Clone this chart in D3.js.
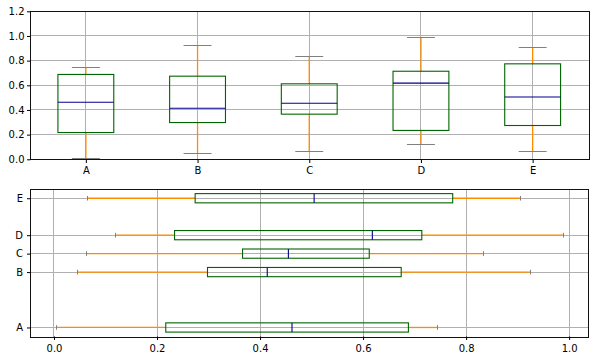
<!DOCTYPE html>
<html><head><meta charset="utf-8">
<script src="https://cdn.jsdelivr.net/npm/d3@7"></script>
<style>body{margin:0;background:#fff}svg{display:block}text{font-family:"DejaVu Sans",sans-serif;font-size:10px;fill:#000}</style>
</head><body>
<script>
const categories = ["A","B","C","D","E"];
const whiskerLow  = [0.005, 0.045, 0.063, 0.120, 0.065];
const q1          = [0.217, 0.298, 0.366, 0.234, 0.274];
const medians     = [0.462, 0.414, 0.455, 0.618, 0.505];
const q3          = [0.688, 0.674, 0.612, 0.714, 0.774];
const whiskerHigh = [0.745, 0.925, 0.833, 0.989, 0.906];
const topPositions = [1,2,3,4,5];
const bottomPositions = [1,4,5,6,8];
const topYTicks = [0,0.2,0.4,0.6,0.8,1.0,1.2];
const bottomXTicks = [0,0.2,0.4,0.6,0.8,1.0];

const W=598,H=361;
const col={box:"#006400",whisk:"#ff8c00",med:"#00008b",cap:"#808080",grid:"#b0b0b0"};
const svg=d3.select("body").append("svg").attr("width",W).attr("height",H);
const s=v=>Math.round(v-0.5)+0.5; // snap to pixel centre (grey furniture only)
const r=v=>Math.round(v);

function ln(g,x1,y1,x2,y2,c,w){
  return g.append("line").attr("x1",x1).attr("y1",y1).attr("x2",x2).attr("y2",y2)
    .attr("stroke",c).attr("stroke-width",w||1);
}
function box(g,x1,y1,x2,y2,c){
  return g.append("rect").attr("x",Math.min(x1,x2)).attr("y",Math.min(y1,y2))
    .attr("width",Math.abs(x2-x1)).attr("height",Math.abs(y2-y1))
    .attr("fill","none").attr("stroke",c).attr("stroke-width",1.1);
}
function styleAxis(a){
  a.select(".domain").remove();
  a.selectAll("text").attr("font-size",10).attr("font-family","DejaVu Sans").attr("fill","#000");
  a.selectAll("line").attr("stroke","#000").attr("stroke-width",1);
}

// ---------- Top (vertical) ----------
{
  const L=30,R=588.5,T=11.3,B=159.3;
  const x=d3.scaleLinear().domain([0.5,5.5]).range([L,R]);
  const y=d3.scaleLinear().domain([0,1.2]).range([B,T]);
  const g=svg.append("g");
  topYTicks.forEach(d=>ln(g,r(L),s(y(d)),r(R),s(y(d)),col.grid));
  topPositions.forEach(d=>ln(g,s(x(d)),r(T),s(x(d)),r(B),col.grid));
  const hw=0.25, cw=0.125;
  categories.forEach((c,i)=>{
    const p=topPositions[i], xp=x(p);
    ln(g,xp,y(q1[i]),xp,y(whiskerLow[i]),col.whisk,1.3);
    ln(g,xp,y(q3[i]),xp,y(whiskerHigh[i]),col.whisk,1.3);
    [whiskerLow[i],whiskerHigh[i]].forEach(v=>ln(g,x(p-cw),s(y(v)),x(p+cw),s(y(v)),col.cap));
    box(g,x(p-hw),y(q3[i]),x(p+hw),y(q1[i]),col.box);
    ln(g,x(p-hw),y(medians[i]),x(p+hw),y(medians[i]),col.med,1.1);
  });
  g.append("rect").attr("x",s(L)).attr("y",s(T)).attr("width",Math.round(R-L)).attr("height",Math.round(B-T))
    .attr("fill","none").attr("stroke","#111");
  const ya=d3.axisLeft(y).tickValues(topYTicks).tickFormat(d3.format(".1f")).tickSize(3.5).tickPadding(2.5);
  styleAxis(svg.append("g").attr("transform",`translate(${s(L)},0)`).call(ya));
  const xa=d3.axisBottom(x).tickValues(topPositions).tickFormat((d,i)=>categories[i]).tickSize(3.5).tickPadding(3.5);
  styleAxis(svg.append("g").attr("transform",`translate(0,${s(B)})`).call(xa));
}

// ---------- Bottom (horizontal) ----------
{
  const L=30.3,R=588.7,T=189,B=336.7;
  const x=d3.scaleLinear().domain([-0.046,1.038]).range([L,R]);
  const y=d3.scaleLinear().domain([0.5,8.5]).range([B,T]);
  const g=svg.append("g");
  bottomXTicks.forEach(d=>ln(g,s(x(d)),r(T),s(x(d)),r(B),col.grid));
  bottomPositions.forEach(d=>ln(g,r(L),s(y(d)),r(R),s(y(d)),col.grid));
  const hw=0.25, cw=0.125;
  categories.forEach((c,i)=>{
    const p=bottomPositions[i], yp=y(p);
    ln(g,x(q1[i]),yp,x(whiskerLow[i]),yp,col.whisk,1.3);
    ln(g,x(q3[i]),yp,x(whiskerHigh[i]),yp,col.whisk,1.3);
    [whiskerLow[i],whiskerHigh[i]].forEach(v=>ln(g,s(x(v)),y(p-cw),s(x(v)),y(p+cw),col.cap));
    box(g,x(q1[i]),y(p+hw),x(q3[i]),y(p-hw),col.box);
    ln(g,x(medians[i]),y(p-hw),x(medians[i]),y(p+hw),col.med,1.1);
  });
  g.append("rect").attr("x",s(L)).attr("y",s(T)).attr("width",Math.round(R-L)).attr("height",Math.round(B-T))
    .attr("fill","none").attr("stroke","#111");
  const xa=d3.axisBottom(x).tickValues(bottomXTicks).tickFormat(d3.format(".1f")).tickSize(3.5).tickPadding(4.5);
  styleAxis(svg.append("g").attr("transform",`translate(0,${s(B)})`).call(xa));
  const ya=d3.axisLeft(y).tickValues(bottomPositions).tickFormat((d,i)=>categories[i]).tickSize(3.5).tickPadding(4);
  styleAxis(svg.append("g").attr("transform",`translate(${s(L)},0)`).call(ya));
}
</script>
</body></html>
